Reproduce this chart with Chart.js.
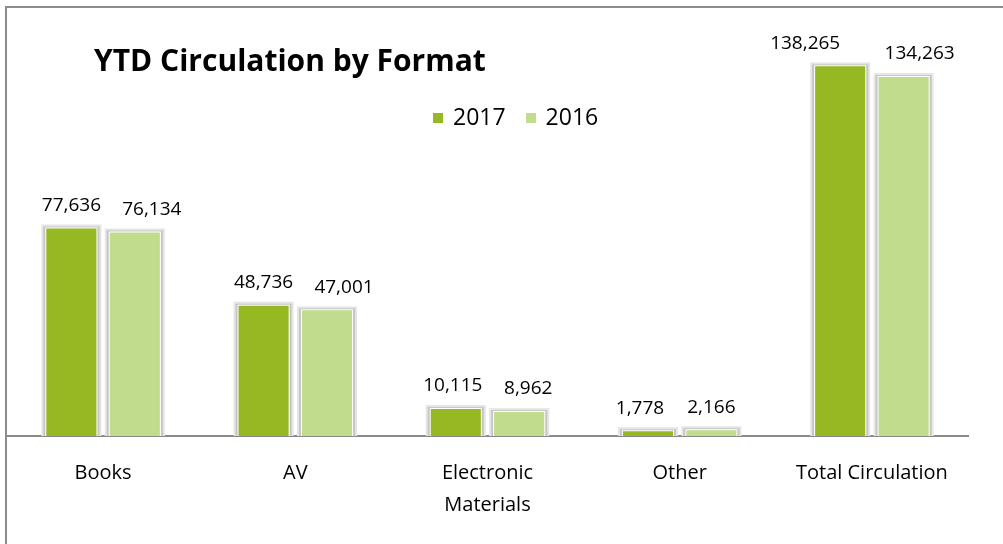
<!DOCTYPE html>
<html>
<head>
<meta charset="utf-8">
<script src="https://cdn.jsdelivr.net/npm/chart.js@4.4.1/dist/chart.umd.min.js"></script>
<style>
  html, body { margin: 0; padding: 0; background: #fff; overflow: hidden; }
  #frame {
    position: absolute; left: 5px; top: 6px; width: 1100px; height: 700px;
    border: 2px solid #8c8c8c; box-sizing: border-box;
  }
  #wrap { position: absolute; left: 0; top: 0; width: 1003px; height: 544px; }
  #title {
    position: absolute; left: 94px; top: 39px;
    font: bold 30px "Open Sans", sans-serif; color: #000; white-space: nowrap;
  }
  #legend {
    position: absolute; left: 433px; top: 100px;
    font: 23px "Open Sans", sans-serif; color: #000; white-space: nowrap;
  }
  #legend span.box { display: inline-block; width: 10px; height: 10px; margin-right: 10px; vertical-align: 2px; }
  #legend span.item { margin-right: 20px; }
</style>
</head>
<body>
<div id="frame"></div>
<div id="wrap"><canvas id="chart" width="1003" height="544"></canvas></div>
<div id="title">YTD Circulation by Format</div>
<div id="legend"></div>
<script>
// Kategoriler ve seriler
const categories = ['Books', 'AV', ['Electronic', 'Materials'], 'Other', 'Total Circulation'];
const values2017 = [77636, 48736, 10115, 1778, 138265];
const values2016 = [76134, 47001, 8962, 2166, 134263];
const seriesNames = ['2017', '2016'];

const COLORS = {
  dark: '#95b823',
  light: '#c0dc8c',
};

// Legend (html)
const legendEl = document.getElementById('legend');
[COLORS.dark, COLORS.light].forEach((c, i) => {
  const item = document.createElement('span');
  item.className = 'item';
  item.innerHTML = '<span class="box" style="background:' + c + '"></span>' + seriesNames[i];
  legendEl.appendChild(item);
});

// bar çerçevesi (gölge efekti)
const barFrame = {
  id: 'barFrame',
  beforeDatasetsDraw(chart) {
    const ctx = chart.ctx;
    ctx.save();
    chart.data.datasets.forEach((ds, i) => {
      chart.getDatasetMeta(i).data.forEach((bar) => {
        const p = bar.getProps(['x', 'y', 'base', 'width'], true);
        const l = p.x - p.width / 2, r = p.x + p.width / 2;
        ctx.fillStyle = '#e6e6e6';
        ctx.fillRect(l - 5, p.y - 4, r - l + 10, p.base - p.y + 4);
        ctx.fillStyle = '#c6c6c6';
        ctx.fillRect(l - 3, p.y - 2, r - l + 6, p.base - p.y + 2);
        ctx.fillStyle = '#ffffff';
        ctx.fillRect(l - 1, p.y - 1, r - l + 2, p.base - p.y + 1);
      });
    });
    ctx.restore();
  },
};

// değer etiketleri (excel'de elle kaydırılmış gibi)
const labelShift = [
  [0, 0, -3, -8, -35],
  [17, 17, 9, 0, 16],
];
const valueLabels = {
  id: 'valueLabels',
  afterDatasetsDraw(chart) {
    const ctx = chart.ctx;
    ctx.save();
    ctx.font = '19px "Open Sans", sans-serif';
    ctx.fillStyle = '#000';
    ctx.textAlign = 'center';
    ctx.textBaseline = 'middle';
    chart.data.datasets.forEach((ds, i) => {
      chart.getDatasetMeta(i).data.forEach((bar, j) => {
        ctx.fillText(ds.data[j].toLocaleString('en-US'), bar.x + labelShift[i][j], bar.y - 23);
      });
    });
    ctx.restore();
  },
};

const config = {
  type: 'bar',
  data: {
    labels: categories,
    datasets: [
      { label: seriesNames[0], data: values2017, backgroundColor: COLORS.dark },
      { label: seriesNames[1], data: values2016, backgroundColor: COLORS.light },
    ],
  },
  options: {
    responsive: false,
    animation: false,
    layout: { padding: { left: 7, right: 35, top: 35, bottom: 0 } },
    plugins: {
      legend: { display: false },
      title: { display: false },
      tooltip: { enabled: false },
    },
    datasets: {
      bar: { barPercentage: 0.79, categoryPercentage: 0.66 },
    },
    scales: {
      x: {
        grid: { display: false, drawTicks: false },
        border: { display: true, color: '#8a8a8a', width: 2 },
        ticks: {
          color: '#000',
          padding: 21,
          maxRotation: 0,
          autoSkip: false,
          font: { family: 'Open Sans', size: 20, lineHeight: 1.6 },
        },
        afterFit(scale) { scale.height = 108; },
      },
      y: { display: false, min: 0, max: 150000 },
    },
  },
  plugins: [barFrame, valueLabels],
};

new Chart(document.getElementById('chart'), config);
</script>
</body>
</html>
